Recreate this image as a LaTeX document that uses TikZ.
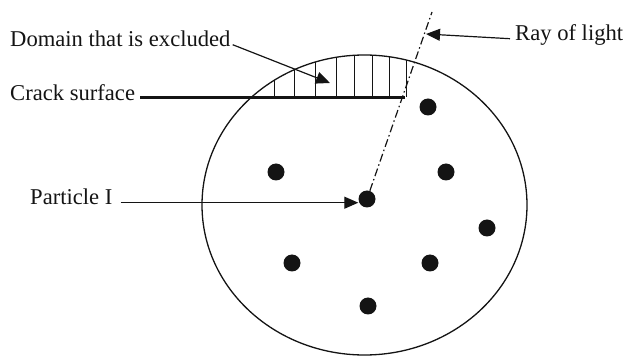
\documentclass[tikz,border=0pt]{standalone}
\usepackage{fontspec}
\setmainfont{Liberation Serif}
\usetikzlibrary{arrows.meta,positioning,calc,shapes.geometric}
\definecolor{ink}{HTML}{141414}
\tikzset{
  >={Triangle[length=14pt,width=12pt]},
  every node/.style={font=\fontsize{22.6}{26}\selectfont,text=ink},
  lbl/.style={inner sep=0pt},
  particle/.style={circle,fill=ink,minimum size=17pt,inner sep=0pt},
  pointer/.style={->,line width=1.2pt,draw=ink},
  crackline/.style={line width=3pt,draw=ink},
  hatch/.style={line width=1pt,draw=ink},
  rayline/.style={line width=1.2pt,draw=ink,dash pattern=on 8pt off 3pt on 1.5pt off 3pt}
}

\begin{document}
\begin{tikzpicture}[x=1pt,y=-1pt]
  \useasboundingbox (0,0) rectangle (625,358);
  % domain round particle I
  \node[draw=ink,line width=1.3pt,ellipse,minimum width=325pt,minimum height=300pt,inner sep=0pt] (domain) at (364.5,205) {};
  \begin{scope}
    \clip (364.5,205) ellipse [x radius=162.5, y radius=150];
    \foreach \x in {274,294,315,336,354,372,389,406}
      \draw[hatch] (\x,40) -- (\x,97);
  \end{scope}
  \coordinate (crackL) at (140,97.5);
  \coordinate (crackR) at (405,97.5);
  \draw[crackline] (crackL) -- (crackR);

  % particles
  \node[particle] (pI) at (367,199) {};
  \node[particle] (p1) at (428,107) {};
  \node[particle] (p2) at (276,172) {};
  \node[particle] (p3) at (446,172) {};
  \node[particle] (p4) at (487,228) {};
  \node[particle] (p5) at (292,263) {};
  \node[particle] (p6) at (430,263) {};
  \node[particle] (p7) at (368,306) {};

  % ray
  \coordinate (rayend) at (432,12);
  \draw[rayline] (pI) -- (rayend);

  % labels
  \node[lbl,anchor=base west] (domtxt) at (10,47) {Domain that is excluded};
  \node[lbl,anchor=base west] (cracktxt) at (10,101) {Crack surface};
  \node[lbl,anchor=base west] (parttxt) at (30,205) {Particle I};
  \node[lbl,anchor=base west] (raytxt) at (515,41) {Ray of light};

  \coordinate (domtip) at (330,83);
  \coordinate (raytip) at (426,34);
  \draw[pointer] ([xshift=2pt]domtxt.mid east) -- (domtip);
  \draw[pointer] ([xshift=8pt]parttxt.mid east) -- (parttxt.mid east -| pI.west);
  \draw[pointer] ([xshift=-5pt]raytxt.mid west) -- (raytip);
\end{tikzpicture}
\end{document}
